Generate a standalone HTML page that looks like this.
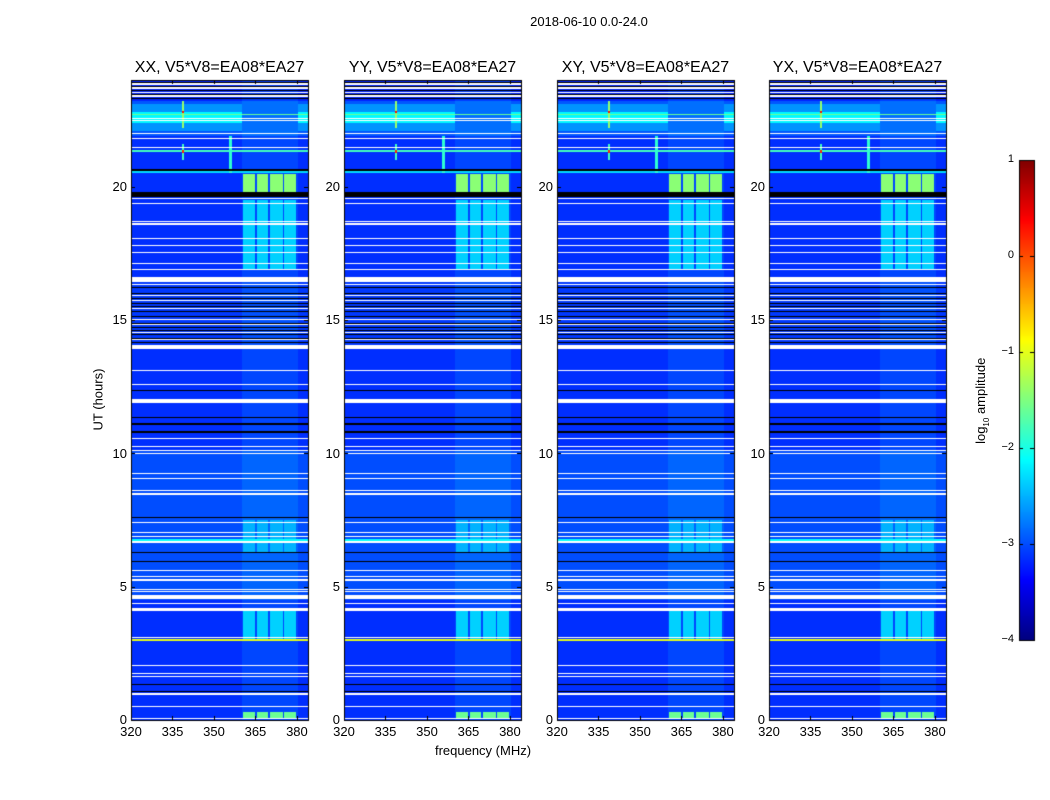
<!DOCTYPE html>
<html><head><meta charset="utf-8">
<style>
body{margin:0;background:#fff;width:1050px;height:800px;overflow:hidden;font-family:"Liberation Sans",sans-serif;}
.t{position:absolute;color:#000;white-space:nowrap;}
canvas{position:absolute;}
</style></head>
<body>
<div class="t" style="left:489px;top:14px;width:200px;text-align:center;font-size:13px;">2018-06-10 0.0-24.0</div>
<div class="t" style="left:48px;top:392px;width:100px;text-align:center;font-size:13px;transform:rotate(-90deg);">UT (hours)</div>
<div class="t" style="left:383px;top:743px;width:200px;text-align:center;font-size:13px;">frequency (MHz)</div>
<canvas id="cv" width="1050" height="800" style="left:0;top:0"></canvas>
<div id="labels"></div>
<div class="t" style="left:922px;top:392px;width:120px;text-align:center;font-size:13px;transform:rotate(-90deg);">log<sub style="font-size:8px">10</sub> amplitude</div>
<script>
// ---- data ----
const panelTitles = ["XX, V5*V8=EA08*EA27","YY, V5*V8=EA08*EA27","XY, V5*V8=EA08*EA27","YX, V5*V8=EA08*EA27"];
const xTicks = [320,335,350,365,380];
const yTicks = [0,5,10,15,20];
const cbTicks = [1,0,-1,-2,-3,-4];
// base level segments [t0,t1,log10 amp]
const baseLevels = [[0,4.5,-3.15],[4.5,10.1,-3.0],[10.1,14,-3.15],[14,16.5,-3.1],[16.5,21.9,-3.15],[21.9,23.2,-2.95],[23.2,24,-3.2]];
// broadband enhancement
const rfiBand = [[22.1,23.1,-2.65],[22.4,22.8,-2.15]];
// frequency region with emission [f0,f1,offset]
const emissionRegion = [[360,380.5,0.12]];
const blockBands = [[360.4,364.8],[365.5,369.7],[370.4,374.8],[375.5,379.8]];
const blockLevels = [[0.06,0.31,-1.6],[3.0,4.09,-2.35],[6.3,7.5,-2.5],[16.9,19.5,-2.35],[19.8,20.47,-1.45]];
// horizontal lines [t, level]
const hLines = [[3.0,-1.0],[6.75,-2.1],[20.55,-2.3],[21.33,-1.8],[22.7,-1.6]];
// vertical spikes [freq, t0, t1, level]
const spikes = [[338.8,21.0,21.6,-1.8],[338.8,22.2,23.2,-1.4],[356,20.5,21.9,-1.9],[338.8,22.75,22.85,0.3],[338.8,21.28,21.38,0.2]];
const whiteGaps = [[0.03,0.08],[0.48,0.53],[0.92,1.02],[1.6,1.64],[1.73,1.77],[2.04,2.08],[3.07,3.11],[4.09,4.2],[4.35,4.39],[4.52,4.69],[4.79,4.83],[4.89,4.93],[5.23,5.27],[5.36,5.4],[5.58,5.62],[6.65,6.7],[6.85,6.9],[7.0,7.05],[7.38,7.42],[8.42,8.46],[8.49,8.53],[8.6,8.64],[9.05,9.09],[9.24,9.28],[9.98,10.02],[10.1,10.14],[10.22,10.26],[10.55,10.59],[11.88,12.02],[12.57,12.61],[13.07,13.11],[13.9,14.06],[14.25,14.29],[14.5,14.54],[14.8,14.84],[15.0,15.04],[15.4,15.44],[15.7,15.74],[15.9,15.94],[16.3,16.34],[16.43,16.62],[16.89,16.93],[17.1,17.14],[17.5,17.54],[17.77,17.81],[18.04,18.08],[18.58,18.62],[18.67,18.71],[19.36,19.4],[19.55,19.59],[21.44,21.48],[21.78,21.82],[21.98,22.02],[22.45,22.49],[22.54,22.58],[23.38,23.42],[23.52,23.56],[23.68,23.72],[23.83,23.87],[23.95,23.99]];
const blackLines = [[1.04,1.08],[1.32,1.36],[6.25,6.29],[5.92,5.96],[7.58,7.62],[10.78,10.82],[11.08,11.12],[11.34,11.38],[12.32,12.36],[14.15,14.18],[14.3,14.33],[14.45,14.48],[14.6,14.64],[14.7,14.73],[14.85,14.88],[15.1,15.14],[15.3,15.33],[15.5,15.53],[15.6,15.63],[15.8,15.83],[16.0,16.03],[16.2,16.23],[19.6,19.8],[20.6,20.65],[23.3,23.34],[23.45,23.48],[23.6,23.63],[23.75,23.78],[23.9,23.93]];

const panelX = [131,344,557,769];
const PW = 177, PT = 80, PB = 720;
const F0 = 320, F1 = 384, T0 = 0, T1 = 24;
function jet(v){
  let n = Math.max(0,Math.min(1,(v+4)/5));
  const c = x=>Math.max(0,Math.min(1,x));
  const r = c(Math.min(4*n-1.5,-4*n+4.5)), g = c(Math.min(4*n-0.5,-4*n+3.5)), b = c(Math.min(4*n+0.5,-4*n+2.5));
  return `rgb(${Math.round(r*255)},${Math.round(g*255)},${Math.round(b*255)})`;
}
const cv = document.getElementById('cv'), ctx = cv.getContext('2d');
const labels = document.getElementById('labels');
function addText(txt,x,y,size,name,align){
  const d = document.createElement('div');
  d.className='t';
  
  
  d.style.fontSize=size+'px';
  d.style.left=(align==='right'?x-60:x-100)+'px';
  d.style.width=(align==='right'?60:200)+'px';
  d.style.textAlign=align||'center';
  d.style.top=(y-size*0.6)+'px';
  d.textContent=txt;
  labels.appendChild(d);
}
panelX.forEach((px,pi)=>{
  const x = f=> px + (f-F0)/(F1-F0)*PW;
  const y = t=> PB - (t-T0)/(T1-T0)*(PB-PT);
  const rect=(f0,f1,t0,t1,col)=>{
    const xa=Math.round(x(f0)), xb=Math.round(x(f1)), ya=Math.round(y(t1)), yb=Math.round(y(t0));
    ctx.fillStyle=col;ctx.fillRect(xa,ya,Math.max(1,xb-xa),Math.max(1,yb-ya));};
  baseLevels.forEach(s=>rect(F0,F1,s[0],s[1],jet(s[2])));
  rfiBand.forEach(s=>rect(F0,F1,s[0],s[1],jet(s[2])));
  emissionRegion.forEach(e=>baseLevels.forEach(s=>rect(e[0],e[1],s[0],s[1],jet(s[2]+e[2]))));
  blockLevels.forEach(l=>blockBands.forEach(b=>rect(b[0],b[1],l[0],l[1],jet(l[2]))));
  hLines.forEach(h=>rect(F0,F1,h[0]-0.03,h[0]+0.03,jet(h[1])));
  spikes.forEach(s=>rect(s[0]-0.5,s[0]+0.5,s[1],s[2],jet(s[3])));
  blackLines.forEach(b=>rect(F0,F1,b[0],b[1],'#000'));
  whiteGaps.forEach(w=>rect(F0,F1,w[0],w[1],'#fff'));
  ctx.strokeStyle='#000';ctx.lineWidth=1;
  ctx.strokeRect(px+0.5,PT+0.5,PW,PB-PT);
  xTicks.forEach(f=>{ctx.beginPath();ctx.moveTo(Math.round(x(f))+0.5,PB);ctx.lineTo(Math.round(x(f))+0.5,PB-4);ctx.moveTo(Math.round(x(f))+0.5,PT);ctx.lineTo(Math.round(x(f))+0.5,PT+4);ctx.stroke();
    addText(String(f),x(f),PB+12,13,'x-tick-label','center');});
  yTicks.forEach(t=>{ctx.beginPath();ctx.moveTo(px,Math.round(y(t))+0.5);ctx.lineTo(px+4,Math.round(y(t))+0.5);ctx.moveTo(px+PW,Math.round(y(t))+0.5);ctx.lineTo(px+PW-4,Math.round(y(t))+0.5);ctx.stroke();
    addText(String(t),px-4,y(t),13,'y-tick-label','right');});
  addText(panelTitles[pi],px+PW/2,PT-11,16,'panel-title','center');
});
// colorbar
const cbX=1019,cbW=15,cbT=160,cbB=640;
const cy=v=>cbB-(v+4)/5*(cbB-cbT);
for(let i=0;i<cbB-cbT;i++){ctx.fillStyle=jet(-4+5*(cbB-cbT-i-0.5)/(cbB-cbT));ctx.fillRect(cbX,cbT+i,cbW,1);}
ctx.strokeStyle='#000';ctx.strokeRect(cbX+0.5,cbT+0.5,cbW,cbB-cbT);
cbTicks.forEach(v=>{ctx.beginPath();ctx.moveTo(cbX,Math.round(cy(v))+0.5);ctx.lineTo(cbX+4,Math.round(cy(v))+0.5);ctx.moveTo(cbX+cbW,Math.round(cy(v))+0.5);ctx.lineTo(cbX+cbW-4,Math.round(cy(v))+0.5);ctx.stroke();
  addText(v<0?'\u2212'+(-v):String(v),cbX-5,cy(v),11,'colorbar-tick-label','right');});
</script>
</body></html>
